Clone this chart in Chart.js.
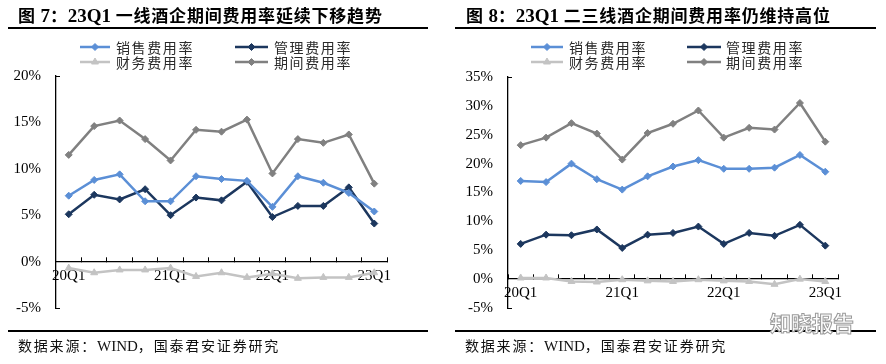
<!DOCTYPE html>
<html>
<head>
<meta charset="utf-8">
<script src="https://cdn.jsdelivr.net/npm/chart.js@4"></script>
<style>
  html, body { margin: 0; padding: 0; background: #fff; }
  body { width: 886px; height: 364px; overflow: hidden; position: relative; font-family: "Noto Sans CJK SC", sans-serif; }
  .panel { position: absolute; top: 0; width: 443px; height: 364px; }
  .panel canvas { position: absolute; left: 0; top: 0; }
  .title { position: absolute; top: 4px; font-weight: bold; font-size: 17px; letter-spacing: 0.8px; white-space: nowrap; color: #000; line-height: 22px; }
  .title .num { font-family: "Liberation Serif", serif; font-size: 19px; letter-spacing: 0; }
  .rule { position: absolute; height: 2px; background: #000; }
  .src { position: absolute; top: 336px; font-size: 14px; letter-spacing: 1.8px; color: #111; white-space: nowrap; line-height: 18px; }
  .src .en { font-family: "Liberation Serif", serif; font-size: 15px; letter-spacing: 0; }
  .wm { position: absolute; left: 770px; top: 309px; font-size: 21px; line-height: 26px; color: #fff; -webkit-text-stroke: 1px #9a9a9a; white-space: nowrap; font-weight: bold; }
</style>
</head>
<body>
<div class="panel" style="left:0"><canvas id="c1" width="443" height="364"></canvas></div>
<div class="panel" style="left:443px"><canvas id="c2" width="443" height="364"></canvas></div>

<div class="title" style="left:18px">图 <span class="num">7</span>：<span class="num">23Q1</span> 一线酒企期间费用率延续下移趋势</div>
<div class="title" style="left:466px">图 <span class="num">8</span>：<span class="num">23Q1</span> 二三线酒企期间费用率仍维持高位</div>
<div class="rule" style="left:8px;width:420px;top:27px"></div>
<div class="rule" style="left:455px;width:421px;top:27px"></div>
<div class="rule" style="left:8px;width:420px;top:330px"></div>
<div class="rule" style="left:455px;width:421px;top:330px"></div>
<div class="src" style="left:18px">数据来源：<span class="en">WIND</span>，国泰君安证券研究</div>
<div class="src" style="left:465px">数据来源：<span class="en">WIND</span>，国泰君安证券研究</div>
<div class="wm">知晓报告</div>

<script>
// ---- Data ----
const categories = ['20Q1','20Q2','20Q3','20Q4','21Q1','21Q2','21Q3','21Q4','22Q1','22Q2','22Q3','22Q4','23Q1'];
const shownLabels = ['20Q1','21Q1','22Q1','23Q1'];
const seriesNames = ['销售费用率','管理费用率','财务费用率','期间费用率'];

// Figure 7: tier-1 liquor companies (%)
const tier1Sales  = [7.1, 8.8, 9.4, 6.5, 6.5, 9.2, 8.9, 8.7, 5.9, 9.2, 8.5, 7.4, 5.4];
const tier1Admin  = [5.1, 7.2, 6.7, 7.8, 5.0, 6.9, 6.6, 8.6, 4.8, 6.0, 6.0, 8.0, 4.1];
const tier1Fin    = [-0.7, -1.2, -0.9, -0.9, -0.7, -1.6, -1.2, -1.7, -1.3, -1.8, -1.7, -1.7, -1.2];
const tier1Period = [11.5, 14.6, 15.2, 13.2, 10.9, 14.2, 14.0, 15.3, 9.5, 13.2, 12.8, 13.7, 8.4];

// Figure 8: tier-2/3 liquor companies (%)
const tier23Sales  = [17.0, 16.8, 20.0, 17.3, 15.5, 17.8, 19.5, 20.6, 19.1, 19.1, 19.3, 21.5, 18.6];
const tier23Admin  = [6.1, 7.7, 7.6, 8.6, 5.4, 7.7, 8.0, 9.1, 6.1, 8.0, 7.5, 9.4, 5.8];
const tier23Fin    = [0.2, 0.2, -0.4, -0.5, -0.1, -0.3, -0.4, -0.1, -0.3, -0.4, -0.9, 0.0, -0.4];
const tier23Period = [23.2, 24.5, 27.0, 25.2, 20.7, 25.3, 26.9, 29.2, 24.5, 26.2, 25.9, 30.5, 23.8];

// ---- Styles ----
const colors  = ['#5B8FD6', '#1C375E', '#C3C3C3', '#808080'];
const markers = ['rectRot', 'rectRot', 'triangle', 'rectRot'];
const radii   = [3.5, 3.5, 4, 3.5];

const legendPlugin = {
  id: 'lineLegend',
  afterDraw(chart, args, opts) {
    const ctx = chart.ctx;
    ctx.save();
    chart.data.datasets.forEach((ds, i) => {
      const it = opts.items[i];
      ctx.strokeStyle = ds.borderColor;
      ctx.lineWidth = 2.5;
      ctx.beginPath();
      ctx.moveTo(it.x0, it.y);
      ctx.lineTo(it.x1, it.y);
      ctx.stroke();
      ctx.fillStyle = ds.borderColor;
      ctx.lineWidth = 1;
      Chart.helpers.drawPoint(ctx, { pointStyle: ds.pointStyle, radius: ds.pointRadius, rotation: 0, borderWidth: 1 }, (it.x0 + it.x1) / 2, it.y);
      ctx.fillStyle = '#2a2a2a';
      ctx.font = '14px "Noto Sans CJK SC"';
      ctx.letterSpacing = '1.6px';
      ctx.textBaseline = 'middle';
      ctx.textAlign = 'left';
      ctx.fillText(ds.label, it.tx, it.y + 1);
    });
    ctx.restore();
  }
};

function makeChart(id, values, yMin, yMax, yWidth, pad, legendItems) {
  const tickFont = { family: 'Liberation Serif', size: 15 };
  new Chart(document.getElementById(id), {
    type: 'line',
    data: {
      labels: categories,
      datasets: values.map((v, i) => ({
        label: seriesNames[i],
        data: v,
        borderColor: colors[i],
        backgroundColor: colors[i],
        pointBackgroundColor: colors[i],
        pointBorderColor: colors[i],
        pointStyle: markers[i],
        pointRadius: radii[i],
        pointBorderWidth: 1,
        borderWidth: 2.5,
        tension: 0,
        fill: false
      }))
    },
    options: {
      responsive: false,
      animation: false,
      layout: { padding: pad },
      plugins: {
        legend: { display: false },
        tooltip: { enabled: false },
        lineLegend: { items: legendItems }
      },
      scales: {
        x: {
          type: 'category',
          position: { y: 0 },
          offset: true,
          grid: { drawOnChartArea: false, offset: true, tickLength: -5, color: '#000', tickColor: '#000', tickWidth: 1 },
          border: { color: '#000', width: 1.3 },
          ticks: {
            autoSkip: false, maxRotation: 0, minRotation: 0, padding: 10, color: '#000', font: tickFont,
            callback: function (v, i) { const l = categories[i]; return shownLabels.includes(l) ? l : ''; }
          },
          afterFit(s) { s.height = 0; }
        },
        y: {
          min: yMin, max: yMax,
          grid: {
            drawOnChartArea: false, tickLength: -4,
            tickColor: (c) => (c.tick && (c.tick.value === yMin || c.tick.value === yMax)) ? '#000' : 'rgba(0,0,0,0)'
          },
          border: { color: '#000', width: 1.3 },
          ticks: { stepSize: 5, padding: 19, color: '#000', font: tickFont, callback: (v) => v + '%' },
          afterFit(s) { s.width = yWidth; }
        }
      }
    },
    plugins: [legendPlugin]
  });
}

makeChart('c1', [tier1Sales, tier1Admin, tier1Fin, tier1Period], -5, 20, 56,
  { top: 76, right: 56, bottom: 56, left: 0 },
  [ { x0: 80, x1: 110, tx: 116, y: 47 }, { x0: 235, x1: 268, tx: 274, y: 47 },
    { x0: 80, x1: 110, tx: 116, y: 62 }, { x0: 235, x1: 268, tx: 274, y: 62 } ]);

makeChart('c2', [tier23Sales, tier23Admin, tier23Fin, tier23Period], -5, 35, 65,
  { top: 77, right: 48, bottom: 56, left: 0 },
  [ { x0: 88, x1: 120, tx: 126, y: 47 }, { x0: 244, x1: 278, tx: 283, y: 47 },
    { x0: 88, x1: 120, tx: 126, y: 62 }, { x0: 244, x1: 278, tx: 283, y: 62 } ]);
</script>
</body>
</html>
